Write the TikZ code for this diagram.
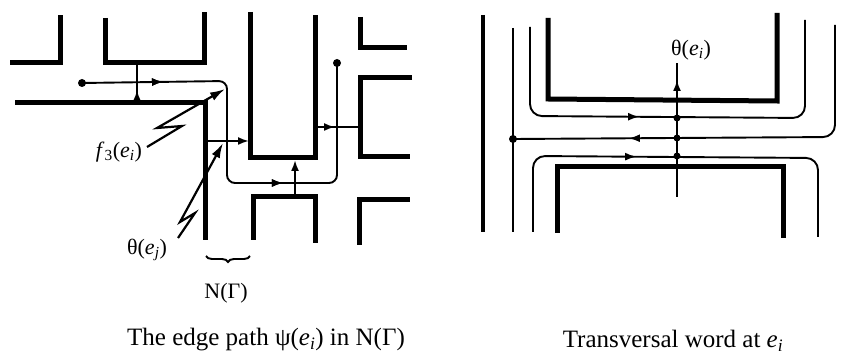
\documentclass[tikz,border=0pt]{standalone}
\usepackage{fontspec}
\setmainfont{Liberation Serif}
\usetikzlibrary{arrows.meta,decorations.markings,decorations.pathreplacing}
\begin{document}
\begin{tikzpicture}[x=1pt,y=-1pt,
 wall/.style={line width=5pt},
 wire/.style={line width=1.9pt, rounded corners=8pt},
 cross/.style={line width=1.9pt},
 tip/.style={-{Latex[length=11pt,width=8pt]}},
 midtip/.style={postaction={decorate},decoration={markings,mark=at position #1 with {\arrow{Latex[length=11pt,width=8pt]}}}},
 dot/.style={circle,fill,inner sep=0pt,minimum size=8pt},
 smalldot/.style={circle,fill,inner sep=0pt,minimum size=7pt},
 leader/.style={line width=2.2pt,-{Latex[length=15pt,width=9pt]}},
 lbl/.style={font=\fontsize{22}{26}\selectfont, inner sep=0pt},
 caption/.style={font=\fontsize{25}{30}\selectfont, inner sep=0pt},
]
\useasboundingbox (0,0) rectangle (854,355);
% ---------- left figure: walls
\draw[wall] (10,63) -- (60,63) -- (60,15);
\draw[wall] (105,18) -- (105,63) -- (204,63) -- (204,12);
\draw[wall] (15,103) -- (205,103) -- (205,240);
\draw[wall] (250,12) -- (250,158) -- (315,158) -- (315,15);
\draw[wall] (253,240) -- (253,197) -- (315,197) -- (315,243);
\draw[wall] (360,17) -- (360,48) -- (407,48);
\draw[wall] (412,78) -- (360,78) -- (360,157) -- (410,157);
\draw[wall] (359,245) -- (359,200) -- (410,200);
% edge path
\node[dot] (ps) at (82,83) {};
\node[dot] (pe) at (337,63) {};
\coordinate (p1) at (227,81);
\coordinate (p2) at (227,183);
\coordinate (p3) at (337,183);
\draw[wire, midtip=81pt, midtip=296pt] (ps.center) -- (p1) -- (p2) -- (p3) -- (pe.center);
% transversal arrows
\coordinate (a1) at (137,103); \coordinate (a2) at (137,64);
\coordinate (b1) at (207,141); \coordinate (b2) at (249,141);
\coordinate (c1) at (295,196); \coordinate (c2) at (295,160);
\coordinate (e1) at (317,127); \coordinate (e2) at (358,127);
\draw[cross, midtip=13pt] (a1) -- (a2);
\draw[cross, tip] (b1) -- (b2);
\draw[cross, tip] (c1) -- (c2);
\draw[cross, midtip=18pt] (e1) -- (e2);
% labels and leaders
\node[lbl] (lf) at (119,152) {\textit{f}\textsubscript{3}(\textit{e}\textsubscript{\textit{i}})};
\coordinate (fz0) at (147,147); \coordinate (fz1) at (182,126);
\coordinate (fz2) at (157,128); \coordinate (fz3) at (225,89);
\draw[leader] (fz0) -- (fz1) -- (fz2) -- (fz3);
\node[lbl] (lt) at (147,250) {θ(\textit{e}\textsubscript{\textit{j}})};
\coordinate (tz0) at (178,238); \coordinate (tz1) at (195,213);
\coordinate (tz2) at (180,222); \coordinate (tz3) at (223,143);
\draw[leader] (tz0) -- (tz1) -- (tz2) -- (tz3);
\coordinate (br1) at (250,256); \coordinate (br2) at (206,256);
\draw[line width=1.9pt, decorate, decoration={brace, amplitude=6pt}] (br1) -- (br2);
\node[lbl] (ng) at (226,293) {N(Γ)};
\node[caption] (cap1) at (266,340) {The edge path ψ(\textit{e}\textsubscript{\textit{i}}) in N(Γ)};
% ---------- right figure
\draw[line width=4pt] (483,15) -- (483,232);
\node[dot] (rd) at (513,139) {};
\draw[line width=2.6pt] (513,28) -- (513,232);
\draw[wall] (548,18) -- (548,99) -- (777,101) -- (777,13);
\draw[wall] (557,233) -- (557,167) -- (783,167) -- (783,238);
\draw[wire, rounded corners=12pt, midtip=193pt] (530,27) -- (530,116) -- (805,118) -- (805,20);
\draw[wire, rounded corners=12pt, midtip=313pt] (835,25) -- (835,137) -- (rd.center);
\draw[wire, rounded corners=12pt, midtip=174pt] (533,232) -- (533,156) -- (818,158) -- (818,237);
\coordinate (t1) at (677,197); \coordinate (t2) at (677,63);
\draw[line width=2pt, midtip=117pt] (t1) -- (t2);
\node[smalldot] (x1) at (677,118) {};
\node[smalldot] (x2) at (677,138) {};
\node[smalldot] (x3) at (677,156) {};
\node[lbl] (lti) at (691,50) {θ(\textit{e}\textsubscript{\textit{i}})};
\node[caption] (cap2) at (673,341) {Transversal word at \textit{e}\textsubscript{\textit{i}}};
\end{tikzpicture}
\end{document}
